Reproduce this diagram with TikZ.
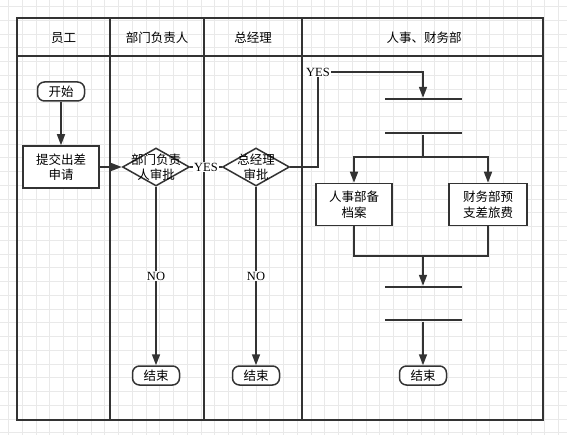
\documentclass[tikz,border=0pt]{standalone}
\usepackage{fontspec}
\setmainfont{Liberation Serif}
\newfontfamily\cjk{Noto Sans CJK SC}
\usepackage{xcolor}
\usepackage{tikz}
\usetikzlibrary{arrows.meta,positioning,shapes.geometric}
\definecolor{ink}{HTML}{333333}
\definecolor{gridgray}{HTML}{E9E9E9}

\begin{document}
\begin{tikzpicture}[
		x=1pt, y=-1pt,
		font=\fontsize{12.5}{15.5}\selectfont,
		>={Triangle[length=11pt,width=8pt]},
		cjkfont/.style={font=\cjk\fontsize{12.5}{15.5}\selectfont},
		gridline/.style={draw=gridgray, line width=0.6pt},
		lane/.style={draw=ink, line width=1.6pt},
		lanehead/.style={cjkfont},
		terminal/.style={draw=ink, line width=1.5pt, rounded corners=7pt, minimum width=47pt, minimum height=19pt, inner sep=0pt, fill=white, cjkfont},
		task/.style={draw=ink, line width=1.5pt, align=center, minimum width=76pt, minimum height=42pt, inner sep=0pt, fill=white, cjkfont},
		decision/.style={diamond, draw=ink, line width=1.5pt, minimum width=67pt, minimum height=38pt, inner sep=0pt, fill=white},
		bar/.style={fill=ink, minimum width=77pt, minimum height=2pt, inner sep=0pt},
		lbl/.style={fill=white, inner sep=1pt},
		link/.style={draw=ink, line width=1.6pt},
		flow/.style={link, ->}
		]
		\useasboundingbox (0,0) rectangle (567,435);
		% background grid
		\begin{scope}[shift={(8.3,6.5)}]
			\draw[gridline, step=13.75pt] (-8.3,428.5) grid (558.7,-6.5);
		\end{scope}
		
		% swimlanes
		\draw[lane] (17,18) rectangle (543,420);
		\draw[lane] (17,56) -- (543,56);
		\draw[lane] (110,18) -- (110,420);
		\draw[lane] (204,18) -- (204,420);
		\draw[lane] (302,18) -- (302,420);
		\node[lanehead] (h1) at (63.5,38) {员工};
		\node[lanehead] (h2) at (157,38) {部门负责人};
		\node[lanehead] (h3) at (253,38) {总经理};
		\node[lanehead] (h4) at (424,38) {人事、财务部};
		
		\node[terminal] (start) at (61,91.5) {开始};
		\node[task] (req) at (61,167) {提交出差\\申请};
		\node[decision, label={[cjkfont, align=center]center:{部门负责\\人审批}}] (d1) at (156,167) {};
		\node[decision, label={[cjkfont, align=center]center:{总经理\\审批}}] (d2) at (256,167) {};
		\node[terminal] (end1) at (156,375.5) {结束};
		\node[terminal] (end2) at (256,375.5) {结束};
		
		\node[bar] (b1) at (423,99) {};
		\node[bar, below=32pt of b1] (b2) {};
		\node[task] (hr) at (354,204.5) {人事部备\\档案};
		\node[task, minimum width=78pt] (fin) at (488,204.5) {财务部预\\支差旅费};
		\node[bar] (b3) at (423,287) {};
		\node[bar, below=31pt of b3] (b4) {};
		\node[terminal] (end3) at (423,375.5) {结束};
		
		\coordinate (yes) at (318,72);
		\coordinate (split) at (423,157);
		\coordinate (merge) at (423,256);
		
		\draw[flow] (start) -- (req);
		\draw[flow] (req) -- (d1);
		\draw[link] (d1) -- node[lbl] {YES} (d2);
		\draw[flow] (d1) -- node[lbl] {NO} (end1);
		\draw[flow] (d2) -- node[lbl] {NO} (end2);
		\draw[flow] (d2.east) -| (yes) node[lbl] {YES} -| (b1.north);
		\draw[link] (b2.south) -- (split);
		\draw[flow] (split) -| (hr);
		\draw[flow] (split) -| (fin);
		\draw[link] (hr) |- (merge);
		\draw[link] (fin) |- (merge);
		\draw[flow] (merge) -- (b3.north);
		\draw[flow] (b4.south) -- (end3);
	\end{tikzpicture}
\end{document}
